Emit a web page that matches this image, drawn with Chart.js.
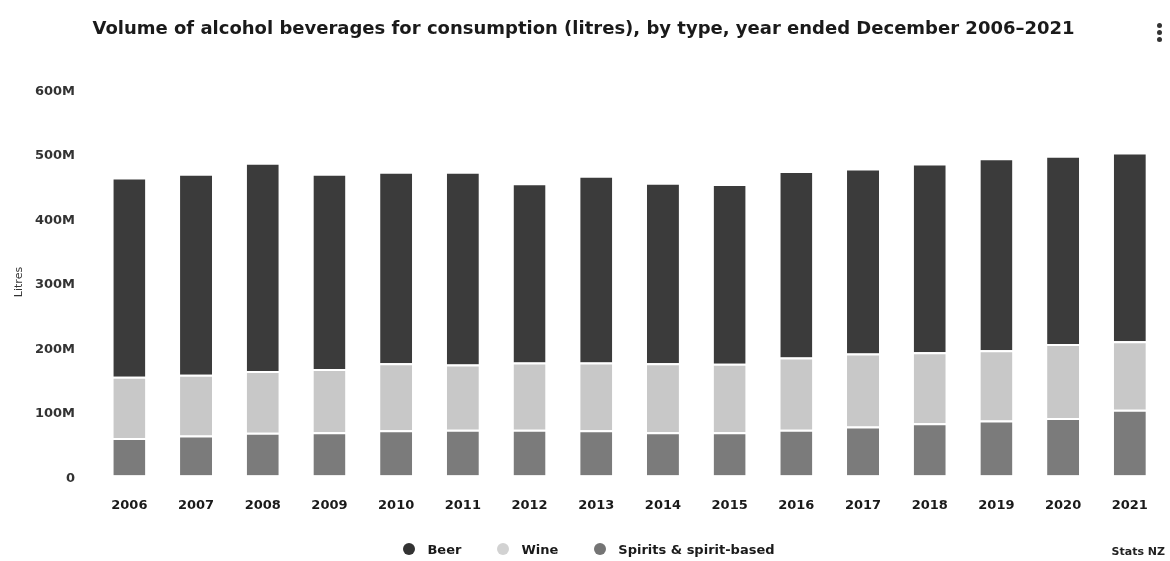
<!DOCTYPE html>
<html>
<head>
<meta charset="utf-8">
<title>Volume of alcohol beverages for consumption</title>
<script src="https://cdn.jsdelivr.net/npm/chart.js@4.4.1/dist/chart.umd.min.js"></script>
<style>
  html, body { margin: 0; padding: 0; background: #ffffff; }
  #wrap { position: relative; width: 1170px; height: 561px; }
  #chart { display: block; }
  #legend {
    position: absolute; left: 4px; width: 1170px; top: 541px; height: 16px;
    display: flex; justify-content: center; align-items: center;
    font: bold 13px "DejaVu Sans", sans-serif; color: #1a1a1a;
  }
  #legend .item { display: flex; align-items: center; margin: 0 18px; }
  #legend .dot { width: 12px; height: 12px; border-radius: 50%; margin-right: 12px; }
  #source {
    position: absolute; right: 5px; bottom: 3px;
    font: 11px "DejaVu Sans", sans-serif; color: #222; font-weight: 600;
  }
  #menu { position: absolute; left: 1157px; top: 23px; width: 6px; }
  #menu span { display: block; width: 5px; height: 5px; border-radius: 50%; background: #333; margin-bottom: 2px; }
</style>
</head>
<body>
<div id="wrap">
  <canvas id="chart" width="1170" height="561"></canvas>
  <div id="legend"></div>
  <div id="menu"><span></span><span></span><span></span></div>
  <div id="source">Stats NZ</div>
</div>
<script>
// Years ended December
const years = ['2006','2007','2008','2009','2010','2011','2012','2013','2014','2015','2016','2017','2018','2019','2020','2021'];

// Volumes in millions of litres
const beer    = [309, 312, 323, 303, 297, 299, 278, 290, 280, 279, 289, 287, 293, 298, 292, 293];
const wine    = [ 95,  94,  96,  98, 104, 101, 104, 105, 107, 106, 112, 113, 110, 109, 115, 106];
const spirits = [ 58,  62,  66,  67,  70,  71,  71,  70,  67,  67,  71,  76,  81,  85,  89, 102];

// Y axis ticks (millions)
const yTicks = [0, 100, 200, 300, 400, 500, 600];

const FONT = '"DejaVu Sans", "Liberation Sans", sans-serif';

// Stacked from the bottom up: spirits, wine, beer
const seg = (label, data, color, legendColor) => ({
  label, data, legendColor,
  backgroundColor: color,
  borderColor: '#ffffff',
  borderWidth: { top: 2, right: 0, bottom: 0, left: 0 },
  borderSkipped: false,
  categoryPercentage: 0.8,
  barPercentage: 0.6,
  stack: 'total'
});

const datasets = [
  seg('Spirits & spirit-based', spirits, '#7b7b7b', '#747474'),
  seg('Wine', wine, '#c8c8c8', '#d2d2d2'),
  seg('Beer', beer, '#3b3b3b', '#333333')
];

const chart = new Chart(document.getElementById('chart'), {
  type: 'bar',
  data: { labels: years, datasets },
  options: {
    responsive: false,
    animation: false,
    layout: { padding: { left: 0, right: 3, top: 0, bottom: 26 } },
    plugins: {
      title: {
        display: true,
        text: 'Volume of alcohol beverages for consumption (litres), by type, year ended December 2006\u20132021',
        color: '#1a1a1a',
        font: { family: FONT, size: 18, weight: 'bold' },
        padding: { top: 19, bottom: 48 }
      },
      legend: { display: false },
      tooltip: { enabled: false }
    },
    scales: {
      x: {
        stacked: true,
        grid: { display: false, drawTicks: false },
        border: { display: false },
        ticks: {
          padding: 22,
          color: '#1a1a1a',
          maxRotation: 0,
          font: { family: FONT, size: 13, weight: 'bold' }
        }
      },
      y: {
        stacked: true,
        min: yTicks[0],
        max: yTicks[yTicks.length - 1],
        afterBuildTicks: (scale) => { scale.ticks = yTicks.map(v => ({ value: v })); },
        afterFit: (scale) => { scale.width = 96; },
        grid: { display: false, drawTicks: false },
        border: { display: false },
        title: {
          display: true,
          text: 'Litres',
          color: '#333',
          font: { family: FONT, size: 11 },
          padding: { top: 13, bottom: 0 }
        },
        ticks: {
          padding: 21,
          labelOffset: 3,
          color: '#333',
          font: { family: FONT, size: 13, weight: 'bold' },
          callback: (v) => v === 0 ? '0' : v + 'M'
        }
      }
    }
  }
});

// Legend row: top segment first
const legendEl = document.getElementById('legend');
chart.data.datasets.slice().reverse().forEach(ds => {
  const item = document.createElement('div');
  item.className = 'item';
  const dot = document.createElement('span');
  dot.className = 'dot';
  dot.style.background = ds.legendColor;
  const txt = document.createElement('span');
  txt.textContent = ds.label;
  item.appendChild(dot);
  item.appendChild(txt);
  legendEl.appendChild(item);
});
</script>
</body>
</html>
